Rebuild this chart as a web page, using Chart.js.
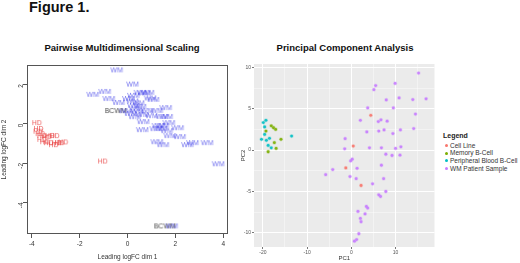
<!DOCTYPE html>
<html><head><meta charset="utf-8">
<script src="https://cdn.jsdelivr.net/npm/chart.js@4.4.1/dist/chart.umd.min.js"></script>
<style>
html,body{margin:0;padding:0;background:#fff;width:520px;height:263px;overflow:hidden;font-family:"Liberation Sans",Arial,sans-serif;}
.t{position:absolute;white-space:nowrap;color:#111;}
canvas{position:absolute;top:0;}
</style></head><body>
<div class="t" style="left:29px;top:-1px;font-weight:bold;font-size:14.5px;">Figure 1.</div>
<div class="t" style="left:0;width:244px;text-align:center;top:41.5px;font-weight:bold;font-size:9.5px;">Pairwise Multidimensional Scaling</div>
<div class="t" style="left:244px;width:202px;text-align:center;top:41.5px;font-weight:bold;font-size:9.5px;">Principal Component Analysis</div>
<canvas id="mds" width="240" height="263" style="left:0"></canvas>
<canvas id="pca" width="200" height="263" style="left:240px"></canvas>
<div id="legend" style="position:absolute;left:443px;top:132px;font-size:6.5px;color:#333;line-height:7.7px;"></div>
<script>
// ---------- DATA ----------
const mdsWM = [[-0.45,2.67],[0.21,1.95],[-1.45,1.43],[-0.95,1.58],[-0.78,1.22],[-0.37,1.02],[0.04,1.22],[0.25,1.38],[0.53,1.53],[0.86,1.53],[0.7,1.5],[1.07,1.17],[1.23,0.61],[1.6,0.76],[0.25,0.87],[0.53,0.82],[0.41,0.56],[0.12,0.46],[0.62,0.41],[0.82,0.61],[1.44,0.31],[1.64,0.31],[0.66,0.05],[1.28,-0.15],[1.48,-0.15],[1.73,0.0],[0.62,-0.36],[1.19,-0.31],[1.64,-0.41],[2.1,-0.26],[1.77,-0.66],[2.18,-0.71],[1.23,-0.97],[1.48,-1.12],[2.51,-1.12],[2.72,-1.02],[3.33,-1.02],[3.79,-2.09],[1.85,-5.24],[0.35,0.7],[0.45,1.0],[0.3,0.3],[1.0,0.35],[1.4,-0.3],[0.95,1.25],[0.2,1.1],[-0.1,0.6]];
const mdsHD = [[-3.79,0.0],[-3.72,-0.3],[-3.74,-0.44],[-3.65,-0.56],[-3.58,-0.66],[-3.37,-0.71],[-3.24,-0.65],[-3.05,-0.66],[-3.58,-0.85],[-3.46,-0.97],[-3.3,-1.02],[-3.09,-1.12],[-2.96,-1.02],[-2.84,-1.02],[-2.69,-0.98],[-1.04,-1.95]];
const mdsBCWM = [[-0.49,0.61],[1.56,-5.24]];
const mdsXTicks = [-4,-2,0,2,4];
const mdsYTicks = [-4,-2,0,2];

const pcaCellLine = [[4.4,4.2],[0.44,0.49],[-1.25,-2.15],[2.2,-4.27]];
const pcaMemoryB = [[-18.1,2.93],[-17.6,2.7],[-17.1,2.5],[-19.3,2.3],[-17.4,0.9],[-18.8,-0.2],[-15.9,1.3],[-17.0,0.2]];
const pcaPBB = [[-19.9,3.33],[-19.3,3.6],[-19.6,2.8],[-19.6,1.9],[-18.5,1.43],[-19.2,1.18],[-18.8,0.57],[-18.1,0.28],[-13.5,1.7],[-20.3,1.3]];
const pcaWM = [[15.2,9.3],[9.9,8.05],[5.5,7.8],[5.1,7.3],[10.8,6.3],[7.9,6.06],[13.9,6.1],[16.9,6.2],[3.7,5.1],[9.5,5.1],[14.5,4.35],[2.05,3.6],[6.1,3.45],[6.7,3.66],[8.1,3.5],[14.1,2.6],[11.1,2.44],[6.2,2.3],[7.4,2.44],[3.5,2.2],[9.4,2.0],[-1.4,1.38],[4.1,0.28],[6.8,0.28],[10,0.2],[11.2,0.4],[-1.5,0.16],[7.8,-0.5],[9.2,-0.65],[11,-0.61],[0.2,-1.1],[-0.15,-1.3],[1.3,-2.2],[-4.2,-2.35],[-5.8,-2.97],[6.8,-1.83],[-0.3,-3.2],[1.1,-3.45],[7.3,-3.45],[4.8,-4.07],[7.8,-5],[6.2,-5.4],[6.6,-5.6],[3.4,-6.8],[3.7,-7.0],[1.5,-7.4],[3.1,-7.7],[2.05,-8.25],[2.2,-8.65],[1.7,-10.1],[1.2,-10.8],[0.7,-11]];
const pcaGroups = ["Cell Line","Memory B-Cell","Peripheral Blood B-Cell","WM Patient Sample"];
const pcaColors = ["#F8766D","#7CAE00","#00BFC4","#C77CFF"];
const pcaXTicks = [-20,-10,0,10];
const pcaYTicks = [-10,-5,0,5,10];

// ---------- HELPERS ----------
const toXY = a => a.map(p => ({x:p[0], y:p[1]}));
function textImg(txt, color){
  const c = document.createElement('canvas');
  const g = c.getContext('2d');
  const f = '7px "Liberation Sans", Arial, sans-serif';
  g.font = f;
  const w = Math.ceil(g.measureText(txt).width) + 2;
  c.width = w; c.height = 9;
  g.font = f; g.fillStyle = color; g.textBaseline = 'middle'; g.textAlign = 'center';
  g.fillText(txt, w/2, 4.5);
  return c;
}
function alpha(hex,a){const n=parseInt(hex.slice(1),16);return `rgba(${n>>16},${(n>>8)&255},${n&255},${a})`;}

const boxPlugin = {id:'box', afterDraw(c){const a=c.chartArea,g=c.ctx;g.save();g.strokeStyle='#555';g.lineWidth=1;g.strokeRect(Math.round(a.left)+0.5,Math.round(a.top)+0.5,Math.round(a.right-a.left)-1,Math.round(a.bottom-a.top)-1);g.restore();}};
const bgPlugin = {id:'bg', beforeDraw(c){const a=c.chartArea,g=c.ctx;g.save();g.fillStyle='#EBEBEB';g.fillRect(a.left,a.top,a.right-a.left,a.bottom-a.top);g.restore();}};

const F = '"Liberation Sans", Arial, sans-serif';

// ---------- MDS ----------
new Chart(document.getElementById('mds'), {
  type:'scatter',
  data:{datasets:[
    {data:toXY(mdsHD), pointStyle:textImg('HD','rgba(232,60,60,0.85)'), pointRadius:3},
    {data:toXY(mdsWM), pointStyle:textImg('WM','rgba(60,60,232,0.75)'), pointRadius:3},
    {data:toXY(mdsBCWM), pointStyle:textImg('BCWM','rgba(40,40,40,0.85)'), pointRadius:3}
  ]},
  options:{
    responsive:false, animation:false, events:[],
    layout:{padding:{top:65,right:12,left:0,bottom:0}},
    plugins:{legend:{display:false},tooltip:{enabled:false}},
    scales:{
      x:{type:'linear',min:-4.2,max:4.2,
        afterBuildTicks:s=>{s.ticks=mdsXTicks.map(v=>({value:v}));},
        afterFit:s=>{s.height=29;},
        grid:{drawOnChartArea:false,drawTicks:true,tickLength:4,color:'#555'},
        border:{display:false},
        ticks:{font:{size:6.5,family:F},color:'#333',padding:2,maxRotation:0},
        title:{display:true,text:'Leading logFC dim 1',font:{size:6.5,family:F},color:'#333',padding:{top:0,bottom:2}}},
      y:{type:'linear',min:-5.6,max:2.97,
        afterBuildTicks:s=>{s.ticks=mdsYTicks.map(v=>({value:v}));},
        afterFit:s=>{s.width=27;},
        grid:{drawOnChartArea:false,drawTicks:true,tickLength:4,color:'#555'},
        border:{display:false},
        ticks:{font:{size:6.5,family:F},color:'#333',padding:2,minRotation:90,maxRotation:90},
        title:{display:true,text:'Leading logFC dim 2',font:{size:6.5,family:F},color:'#333',padding:{top:0,bottom:1}}}
    }
  },
  plugins:[boxPlugin]
});

// ---------- PCA ----------
const pcaSets = [pcaCellLine,pcaMemoryB,pcaPBB,pcaWM];
new Chart(document.getElementById('pca'), {
  type:'scatter',
  data:{datasets:pcaSets.map((d,i)=>({label:pcaGroups[i],data:toXY(d),pointRadius:1.4,borderWidth:1.5,backgroundColor:alpha(pcaColors[i],0.9),borderColor:alpha(pcaColors[i],0.25)}))},
  options:{
    responsive:false, animation:false, events:[],
    layout:{padding:{top:64,right:1,left:0,bottom:0}},
    plugins:{legend:{display:false},tooltip:{enabled:false}},
    scales:{
      x:{type:'linear',min:-22,max:18.8,
        ticks:{stepSize:5,includeBounds:false,font:{size:5,family:F},color:'#555',padding:1,maxRotation:0,autoSkip:false,
          callback:v=>(v%10===0?v:'')},
        afterFit:s=>{s.height=16;},
        grid:{color:c=>c.tick&&c.tick.value%10===0?'#FFFFFF':'rgba(255,255,255,0.65)',lineWidth:c=>c.tick&&c.tick.value%10===0?1:0.6,
          drawTicks:true,tickLength:2,tickColor:c=>c.tick&&c.tick.value%10===0?'#777':'rgba(0,0,0,0)'},
        border:{display:false},
        title:{display:true,text:'PC1',font:{size:6,family:F},color:'#333',padding:{top:0,bottom:1}}},
      y:{type:'linear',min:-11.7,max:10.4,
        ticks:{stepSize:2.5,includeBounds:false,font:{size:5,family:F},color:'#555',padding:1,autoSkip:false,
          callback:v=>(v%5===0?v:'')},
        afterFit:s=>{s.width=14;},
        grid:{color:c=>c.tick&&c.tick.value%5===0?'#FFFFFF':'rgba(255,255,255,0.65)',lineWidth:c=>c.tick&&c.tick.value%5===0?1:0.6,
          drawTicks:true,tickLength:2,tickColor:c=>c.tick&&c.tick.value%5===0?'#777':'rgba(0,0,0,0)'},
        border:{display:false},
        title:{display:true,text:'PC2',font:{size:6,family:F},color:'#333',padding:{top:0,bottom:0}}}
    }
  },
  plugins:[bgPlugin]
});

// ---------- LEGEND (HTML) ----------
const lg = document.getElementById('legend');
let h = '<div style="font-weight:bold;font-size:7px;margin-bottom:2px;color:#222">Legend</div>';
pcaGroups.forEach((g,i)=>{h+=`<div><span style="display:inline-block;width:3px;height:3px;border-radius:50%;background:${pcaColors[i]};margin:0 2px 1px 2px;vertical-align:middle"></span>${g}</div>`;});
lg.innerHTML = h;
</script>
</body></html>
